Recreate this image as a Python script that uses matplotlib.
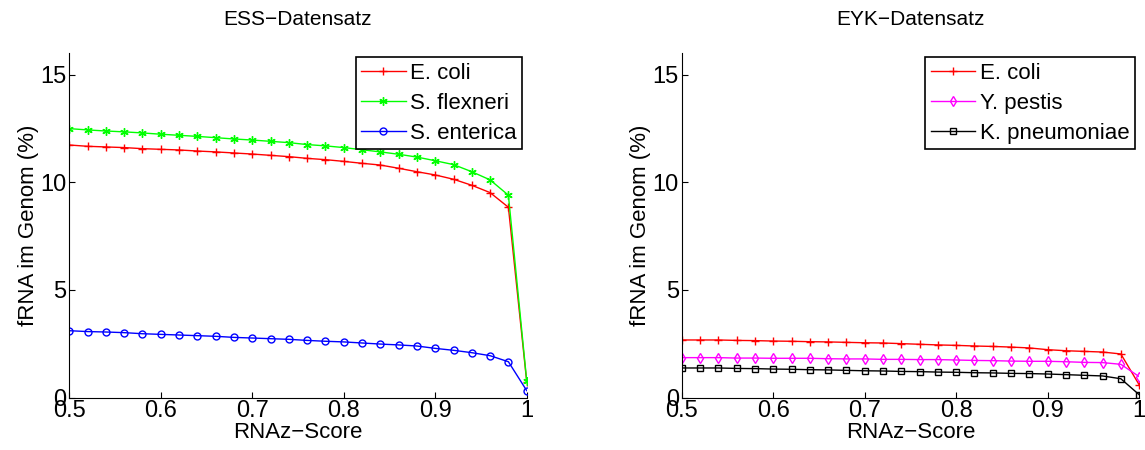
import numpy as np
import matplotlib.pyplot as plt

plt.rcParams['font.family'] = ['Liberation Sans', 'DejaVu Sans']

# RNAz score thresholds
scores = np.round(np.arange(0.5, 1.0001, 0.02), 2)

# ESS data set (fRNA share of genome in %)
ess_ecoli = [11.73, 11.67, 11.64, 11.61, 11.56, 11.53, 11.50, 11.45, 11.41, 11.36,
             11.31, 11.25, 11.19, 11.11, 11.05, 10.97, 10.88, 10.80, 10.65, 10.49,
             10.34, 10.14, 9.86, 9.52, 8.84, 0.75]
ess_flexneri = [12.49, 12.43, 12.38, 12.34, 12.29, 12.23, 12.18, 12.13, 12.07, 12.01,
                11.96, 11.90, 11.84, 11.75, 11.69, 11.61, 11.51, 11.41, 11.30, 11.17,
                11.00, 10.82, 10.49, 10.11, 9.40, 0.79]
ess_enterica = [3.11, 3.07, 3.05, 3.02, 2.97, 2.94, 2.91, 2.88, 2.85, 2.80,
                2.77, 2.74, 2.71, 2.66, 2.62, 2.59, 2.54, 2.49, 2.45, 2.40,
                2.29, 2.20, 2.09, 1.95, 1.67, 0.33]

# EYK data set
eyk_ecoli = [2.68, 2.68, 2.68, 2.66, 2.65, 2.63, 2.62, 2.60, 2.59, 2.57,
             2.55, 2.54, 2.51, 2.48, 2.45, 2.43, 2.40, 2.38, 2.35, 2.31,
             2.23, 2.18, 2.15, 2.12, 2.03, 0.60]
eyk_pestis = [1.86, 1.86, 1.86, 1.84, 1.84, 1.83, 1.83, 1.83, 1.81, 1.80,
              1.80, 1.78, 1.78, 1.77, 1.77, 1.75, 1.73, 1.72, 1.70, 1.69,
              1.69, 1.67, 1.64, 1.63, 1.55, 0.98]
eyk_pneumoniae = [1.38, 1.38, 1.38, 1.36, 1.35, 1.33, 1.32, 1.30, 1.29, 1.27,
                  1.25, 1.24, 1.22, 1.21, 1.19, 1.18, 1.16, 1.15, 1.13, 1.12,
                  1.10, 1.07, 1.04, 1.01, 0.88, 0.14]

asterisk = (6, 2, 0)

fig = plt.figure(figsize=(11.45, 4.5), dpi=100)
ax1 = fig.add_axes([0.0605, 0.1162, 0.3995, 0.766])
ax2 = fig.add_axes([0.5954, 0.1162, 0.3995, 0.766])

ax1.plot(scores, ess_ecoli, color='red', marker='+', ms=6, mew=1, lw=1, label='E. coli')
ax1.plot(scores, ess_flexneri, color='#00ff00', marker=asterisk, ms=6, mew=1, lw=1, label='S. flexneri')
ax1.plot(scores, ess_enterica, color='blue', marker='o', ms=5, mfc='none', lw=1, label='S. enterica')
ax1.set_title('ESS\u2212Datensatz', fontsize=15, pad=20)

ax2.plot(scores, eyk_ecoli, color='red', marker='+', ms=6, mew=1, lw=1, label='E. coli')
ax2.plot(scores, eyk_pestis, color='magenta', marker='d', ms=5, mfc='none', lw=1, label='Y. pestis')
ax2.plot(scores, eyk_pneumoniae, color='black', marker='s', ms=4, mfc='none', lw=1, label='K. pneumoniae')
ax2.set_title('EYK\u2212Datensatz', fontsize=15, pad=20)

for ax in (ax1, ax2):
    ax.set_xlim(0.5, 1)
    ax.set_ylim(0, 16)
    ax.set_xticks([0.5, 0.6, 0.7, 0.8, 0.9, 1.0])
    ax.set_xticklabels(['0.5', '0.6', '0.7', '0.8', '0.9', '1'])
    ax.set_yticks([0, 5, 10, 15])
    ax.tick_params(direction='in', length=4, labelsize=17, pad=2)
    ax.spines['top'].set_visible(False)
    ax.spines['right'].set_visible(False)
    ax.set_xlabel('RNAz\u2212Score', fontsize=16, labelpad=0)
    ax.set_ylabel('fRNA im Genom (%)', fontsize=16, labelpad=1)
    leg = ax.legend(loc='upper right', fontsize=16, fancybox=False, framealpha=1,
                    edgecolor='black', handlelength=2.0, handletextpad=0.2,
                    borderpad=0.25, labelspacing=0.4, borderaxespad=0.2)
    leg.get_frame().set_linewidth(1.2)

fig.savefig('out.png', dpi=100)
